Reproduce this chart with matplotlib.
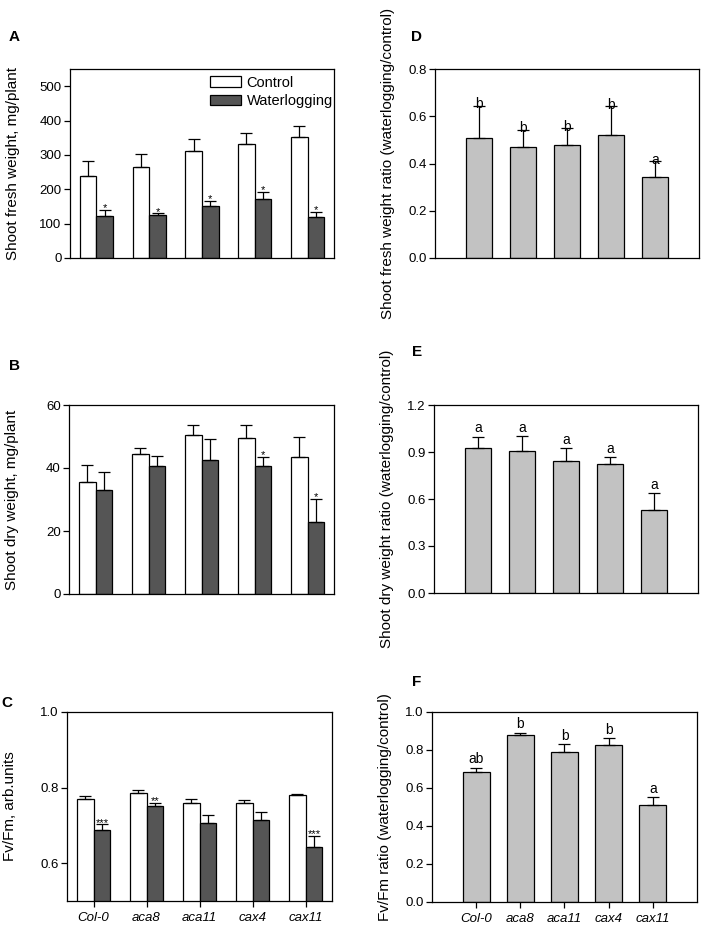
"""Waterlogging response of Ca2+ transporter mutants: biomass and Fv/Fm panels."""

import matplotlib

matplotlib.use("Agg")
import matplotlib.pyplot as plt
from matplotlib.patches import Patch
import numpy as np

plt.rcParams["font.family"] = ["Liberation Sans", "DejaVu Sans"]
plt.rcParams["font.size"] = 9.5
plt.rcParams["axes.linewidth"] = 0.9

genotypes = ["Col-0", "aca8", "aca11", "cax4", "cax11"]

# A: shoot fresh weight, mg/plant
fw_control = [239, 264, 311, 332, 352]
fw_control_err = [43, 39, 34, 31, 31]
fw_water = [122, 124, 150, 173, 120]
fw_water_err = [18, 6, 16, 20, 15]
fw_marks = ["*", "*", "*", "*", "*"]

# B: shoot dry weight, mg/plant
dw_control = [35.7, 44.6, 50.4, 49.5, 43.5]
dw_control_err = [5.2, 1.9, 3.4, 4.2, 6.4]
dw_water = [32.9, 40.6, 42.5, 40.6, 22.9]
dw_water_err = [5.7, 3.3, 6.7, 2.9, 7.4]
dw_marks = ["", "", "", "*", "*"]

# C: Fv/Fm
fv_control = [0.771, 0.787, 0.759, 0.758, 0.781]
fv_control_err = [0.008, 0.007, 0.011, 0.009, 0.003]
fv_water = [0.687, 0.752, 0.706, 0.713, 0.644]
fv_water_err = [0.016, 0.008, 0.021, 0.023, 0.029]
fv_marks = ["***", "**", "", "", "***"]

# D-F: waterlogging/control ratios
fw_ratio = [0.507, 0.468, 0.480, 0.521, 0.343]
fw_ratio_err = [0.138, 0.075, 0.070, 0.122, 0.066]
fw_ratio_letters = ["b", "b", "b", "b", "a"]

dw_ratio = [0.928, 0.907, 0.845, 0.822, 0.529]
dw_ratio_err = [0.070, 0.093, 0.079, 0.045, 0.108]
dw_ratio_letters = ["a", "a", "a", "a", "a"]

fv_ratio = [0.683, 0.878, 0.792, 0.824, 0.513]
fv_ratio_err = [0.024, 0.013, 0.039, 0.038, 0.039]
fv_ratio_letters = ["ab", "b", "b", "b", "a"]

W, H = 701, 926
WATER = "#555555"
RATIO = "#c2c2c2"


def px_axes(fig, x0, y0, x1, y1):
    """Add axes from pixel box (top-left origin)."""
    return fig.add_axes([x0 / W, 1 - y1 / H, (x1 - x0) / W, (y1 - y0) / H])


def style(ax, xticks):
    ax.tick_params(axis="y", direction="out", length=4, width=0.9, pad=2)
    ax.tick_params(axis="x", direction="out", length=4, width=0.9, pad=4)
    if not xticks:
        ax.set_xticks([])


def pair_panel(ax, ctrl, ctrl_err, water, water_err, marks, ylim, yticks, ylabel, xticks=False):
    x = np.arange(len(genotypes))
    w = 0.316
    kw = dict(capsize=4, error_kw=dict(elinewidth=0.9, capthick=0.9, ecolor="black"))
    ax.bar(x - w / 2, ctrl, w, color="white", edgecolor="black", linewidth=0.9,
           yerr=[np.zeros(len(ctrl)), ctrl_err], label="Control", **kw)
    ax.bar(x + w / 2, water, w, color=WATER, edgecolor="black", linewidth=0.9,
           yerr=[np.zeros(len(water)), water_err], label="Waterlogging", **kw)
    for xi, top, m in zip(x + w / 2, np.add(water, water_err), marks):
        if m:
            ax.annotate(m, (xi, top), xytext=(0, -2.5), textcoords="offset points",
                        ha="center", va="bottom", fontsize=8)
    ax.set_xlim(-0.5, len(genotypes) - 0.5)
    ax.set_ylim(*ylim)
    ax.set_yticks(yticks)
    ax.set_ylabel(ylabel, fontsize=11)
    ax.yaxis.set_label_coords(-0.19, 0.5)
    if xticks:
        ax.set_xticks(x)
        ax.set_xticklabels(genotypes, style="italic")
    style(ax, xticks)


def ratio_panel(ax, vals, errs, letters, ylim, yticks, ylabel, xticks=False, letter_dy=1):
    x = np.arange(1, len(genotypes) + 1)
    ax.bar(x, vals, 0.61, color=RATIO, edgecolor="black", linewidth=0.9,
           yerr=[np.zeros(len(vals)), errs], capsize=4,
           error_kw=dict(elinewidth=0.9, capthick=0.9, ecolor="black"))
    for xi, top, lt in zip(x, np.add(vals, errs), letters):
        ax.annotate(lt, (xi, top), xytext=(0, letter_dy), textcoords="offset points",
                    ha="center", va="bottom", fontsize=10)
    ax.set_xlim(0, len(genotypes) + 1)
    ax.set_ylim(*ylim)
    ax.set_yticks(yticks)
    ax.set_yticklabels([f"{t:.1f}" for t in yticks])
    ax.set_ylabel(ylabel, fontsize=11)
    ax.yaxis.set_label_coords(-0.15, 0.5)
    if xticks:
        ax.set_xticks(x)
        ax.set_xticklabels(genotypes, style="italic")
    style(ax, xticks)


fig = plt.figure(figsize=(W / 100, H / 100), dpi=100)

axA = px_axes(fig, 70, 69, 334, 258)
pair_panel(axA, fw_control, fw_control_err, fw_water, fw_water_err, fw_marks,
           (0, 550), np.arange(0, 501, 100), "Shoot fresh weight, mg/plant")
axA.legend(handles=[Patch(facecolor="white", edgecolor="black", linewidth=0.9, label="Control"),
                    Patch(facecolor=WATER, edgecolor="black", linewidth=0.9, label="Waterlogging")],
           loc="upper right", bbox_to_anchor=(1.045, 1.035), frameon=False, fontsize=10.5,
           handlelength=2.1, handleheight=0.7, handletextpad=0.4, labelspacing=0.3,
           borderpad=0.4)

axB = px_axes(fig, 69, 405, 334, 594)
pair_panel(axB, dw_control, dw_control_err, dw_water, dw_water_err, dw_marks,
           (0, 60), np.arange(0, 61, 20), "Shoot dry weight, mg/plant")

axC = px_axes(fig, 67, 712, 332, 901)
pair_panel(axC, fv_control, fv_control_err, fv_water, fv_water_err, fv_marks,
           (0.5, 1.0), [0.6, 0.8, 1.0], "Fv/Fm, arb.units", xticks=True)
axC.set_yticklabels(["0.6", "0.8", "1.0"])

axD = px_axes(fig, 435, 69, 699, 258)
ratio_panel(axD, fw_ratio, fw_ratio_err, fw_ratio_letters, (0, 0.8),
            [0, 0.2, 0.4, 0.6, 0.8], "Shoot fresh weight ratio (waterlogging/control)",
            letter_dy=-4)

axE = px_axes(fig, 434, 405, 698, 593)
ratio_panel(axE, dw_ratio, dw_ratio_err, dw_ratio_letters, (0, 1.2),
            [0, 0.3, 0.6, 0.9, 1.2], "Shoot dry weight ratio (waterlogging/control)")

axF = px_axes(fig, 432, 712, 697, 902)
ratio_panel(axF, fv_ratio, fv_ratio_err, fv_ratio_letters, (0, 1.0),
            [0, 0.2, 0.4, 0.6, 0.8, 1.0], "Fv/Fm ratio (waterlogging/control)", xticks=True)

for letter, (px, py) in {"A": (14, 37), "B": (15, 366), "C": (7, 703),
                         "D": (417, 37), "E": (417, 352), "F": (417, 682)}.items():
    fig.text(px / W, 1 - py / H, letter, fontsize=11, fontweight="bold",
             ha="center", va="center")

fig.savefig("out.png", dpi=100)
plt.close(fig)
